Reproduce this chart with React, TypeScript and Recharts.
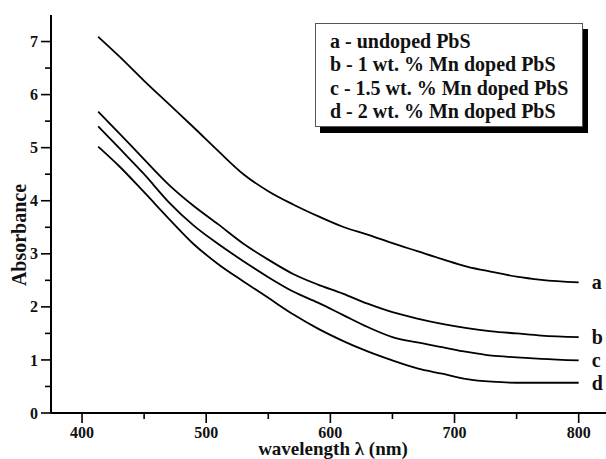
import React from 'react';
import { LineChart, Line, XAxis, YAxis, Legend } from 'recharts';

const wavelength = [413, 430, 450, 470, 490, 510, 530, 550, 570, 590, 610, 630, 650, 670, 690, 710, 730, 750, 770, 800];
const undoped = [7.09, 6.72, 6.26, 5.82, 5.38, 4.93, 4.5, 4.18, 3.93, 3.71, 3.51, 3.36, 3.2, 3.05, 2.9, 2.76, 2.66, 2.57, 2.51, 2.46];
const mn1 = [5.68, 5.27, 4.78, 4.3, 3.9, 3.55, 3.19, 2.89, 2.62, 2.42, 2.25, 2.06, 1.9, 1.78, 1.68, 1.6, 1.54, 1.5, 1.46, 1.43];
const mn15 = [5.4, 4.99, 4.5, 3.97, 3.53, 3.18, 2.86, 2.56, 2.29, 2.08, 1.85, 1.62, 1.43, 1.33, 1.24, 1.15, 1.08, 1.05, 1.02, 0.99];
const mn2 = [5.02, 4.65, 4.16, 3.66, 3.18, 2.8, 2.48, 2.17, 1.86, 1.59, 1.36, 1.16, 0.99, 0.84, 0.74, 0.64, 0.59, 0.57, 0.57, 0.57];

const seriesKeys = ['a', 'b', 'c', 'd'];
const seriesNames = ['a - undoped PbS', 'b - 1 wt. % Mn doped PbS', 'c - 1.5 wt. % Mn doped PbS', 'd - 2 wt. % Mn doped PbS'];
const xTicks = [400, 450, 500, 550, 600, 650, 700, 750, 800];
const yTicks = [0, 0.5, 1, 1.5, 2, 2.5, 3, 3.5, 4, 4.5, 5, 5.5, 6, 6.5, 7];

const data = wavelength.map((w, i) => ({ w, a: undoped[i], b: mn1[i], c: mn15[i], d: mn2[i] }));

const font = '"Liberation Serif", "Times New Roman", serif';
const lastIndex = wavelength.length - 1;

const YTick = (props: any) => {
  const { x, y, payload } = props;
  const major = Number.isInteger(payload.value);
  return (
    <g>
      <line x1={x} x2={x - (major ? 10 : 6)} y1={y} y2={y} stroke="#000" strokeWidth={1.6} />
      {major && (
        <text x={x - 13} y={y} dy="0.35em" textAnchor="end" fontFamily={font} fontWeight="bold" fontSize={16} fill="#111">
          {payload.value}
        </text>
      )}
    </g>
  );
};

const XTick = (props: any) => {
  const { x, y, payload } = props;
  const major = payload.value % 100 === 0;
  return (
    <g>
      <line x1={x} x2={x} y1={y} y2={y + (major ? 10 : 6)} stroke="#000" strokeWidth={1.6} />
      {major && (
        <text x={x} y={y + 25} textAnchor="middle" fontFamily={font} fontWeight="bold" fontSize={16} fill="#111">
          {payload.value}
        </text>
      )}
    </g>
  );
};

const endLabel = (name: string) => (props: any) => {
  const { x, y, index } = props;
  if (index !== lastIndex) return null;
  return (
    <text x={x + 13} y={y} dy="0.35em" fontFamily={font} fontWeight="bold" fontSize={20} fill="#111">
      {name}
    </text>
  );
};

const LegendBox = () => (
  <div
    style={{
      border: '1px solid #555',
      background: '#fff',
      boxShadow: '5px 6px 0 #000',
      padding: '6px 8px 6px 14px',
      fontFamily: font,
      fontWeight: 'bold',
      fontSize: 20,
      lineHeight: '23.3px',
      color: '#111',
      whiteSpace: 'nowrap',
      boxSizing: 'border-box',
      width: 268,
      height: 104,
    }}
  >
    {seriesNames.map((n) => (
      <div key={n}>{n}</div>
    ))}
  </div>
);

export default function App() {
  return (
    <div style={{ position: 'absolute', left: 0, top: 0, width: 606, height: 459, background: '#fff' }}>
      <LineChart width={606} height={459} data={data} margin={{ top: 15, right: 0, bottom: 0, left: 0 }}>
        <XAxis
          dataKey="w"
          type="number"
          domain={[375, 822]}
          ticks={xTicks}
          interval={0}
          allowDataOverflow
          height={46}
          tickSize={0}
          tickMargin={0}
          tick={<XTick />}
          axisLine={{ stroke: '#000', strokeWidth: 2 }}
          label={() => (
            <text x={333} y={455} textAnchor="middle" fontFamily={font} fontWeight="bold" fontSize={19} fill="#111">
              wavelength λ (nm)
            </text>
          )}
        />
        <YAxis
          type="number"
          domain={[0, 7.5]}
          ticks={yTicks}
          interval={0}
          width={51}
          tickSize={0}
          tickMargin={0}
          tick={<YTick />}
          axisLine={{ stroke: '#000', strokeWidth: 2 }}
          label={() => (
            <text x={19} y={235} transform="rotate(-90 19 235)" dy="0.35em" textAnchor="middle" fontFamily={font} fontWeight="bold" fontSize={20} fill="#111">
              Absorbance
            </text>
          )}
        />
        <Legend
          layout="vertical"
          align="center"
          verticalAlign="middle"
          content={<LegendBox />}
          wrapperStyle={{ left: 315, top: 23, width: 'auto', height: 'auto' }}
        />
        {seriesKeys.map((k) => (
          <Line
            key={k}
            dataKey={k}
            type="monotone"
            stroke="#000"
            strokeWidth={1.8}
            dot={false}
            activeDot={false}
            isAnimationActive={false}
            label={endLabel(k)}
          />
        ))}
      </LineChart>
    </div>
  );
}
